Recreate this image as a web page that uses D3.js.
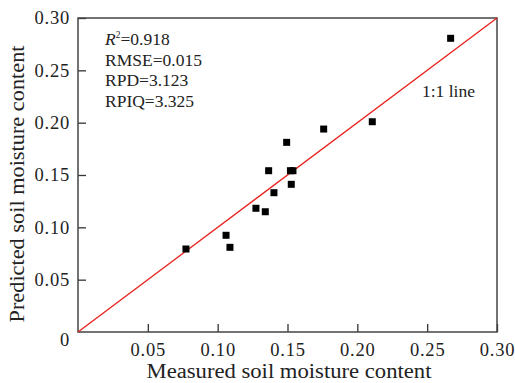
<!DOCTYPE html>
<html><head><meta charset="utf-8">
<script src="https://cdn.jsdelivr.net/npm/d3@7/dist/d3.min.js"></script>
<style>body{margin:0;background:#fff}svg{display:block}text{font-family:"Liberation Serif","DejaVu Serif",serif !important;fill:#222}</style>
</head><body><svg id="c" width="515" height="383"></svg>
<script>
const measured  = [0.0773,0.1060,0.1088,0.1274,0.1341,0.1365,0.1403,0.1494,0.1521,0.1539,0.1527,0.1759,0.2107,0.2668];
const predicted = [0.0793,0.0924,0.0809,0.1182,0.1149,0.1541,0.1331,0.1812,0.1541,0.1541,0.1411,0.1939,0.2009,0.2806];
const xTicks = [0.05,0.10,0.15,0.20,0.25,0.30];
const yTicks = [0,0.05,0.10,0.15,0.20,0.25,0.30];
const stats = [["R","=0.918"],["","RMSE=0.015"],["","RPD=3.123"],["","RPIQ=3.325"]];
const lineLabel = "1:1 line";
const xTitle = "Measured soil moisture content";
const yTitle = "Predicted soil moisture content";

const svg = d3.select("#c");
const L=78,R=497,T=18,B=332;
const x = d3.scaleLinear().domain([0,0.3]).range([L,R]);
const y = d3.scaleLinear().domain([0,0.3]).range([B,T]);
const fmt = d => d===0 ? "0" : d3.format(".2f")(d);

const gx = svg.append("g").attr("transform",`translate(0,${B})`)
  .call(d3.axisBottom(x).tickValues(xTicks).tickFormat(fmt).tickSizeInner(-8).tickSizeOuter(0).tickPadding(11));
const gy = svg.append("g").attr("transform",`translate(${L},0)`)
  .call(d3.axisLeft(y).tickValues(yTicks).tickFormat(fmt).tickSizeInner(-8).tickSizeOuter(0).tickPadding(8));
[gx,gy].forEach(g=>{
  g.attr("font-family",null).attr("font-size",null);
  g.select(".domain").remove();
  g.selectAll(".tick line").attr("stroke","#333").attr("stroke-width",1.3);
  g.selectAll(".tick text").attr("font-size",18.5).attr("fill","#222").attr("letter-spacing","0.8px");
});
gy.selectAll(".tick").filter(d=>d===0).select("text").attr("dy","0.75em");
gy.selectAll(".tick").filter(d=>d===0).select("line").remove();

// frame
svg.append("rect").attr("x",L).attr("y",T).attr("width",R-L).attr("height",B-T)
  .attr("fill","none").attr("stroke","#444").attr("stroke-width",1.5);

// 1:1 line
svg.append("line").attr("x1",x(0)).attr("y1",y(0)).attr("x2",x(0.3)).attr("y2",y(0.3))
  .attr("stroke","#e8201c").attr("stroke-width",1.3);

// points
const pts = measured.map((m,i)=>[m,predicted[i]]);
svg.append("g").selectAll("rect").data(pts).join("rect")
  .attr("x",d=>x(d[0])-3.5).attr("y",d=>y(d[1])-3.5).attr("width",7).attr("height",7).attr("fill","#000");

// stats text
const st = svg.append("g");
stats.forEach((s,i)=>{
  const t = st.append("text").attr("x",105).attr("y",45+i*20.7).attr("font-size",17.5);
  if(s[0]){
    t.append("tspan").attr("font-style","italic").text(s[0]);
    t.append("tspan").attr("font-size",9.5).attr("dy",-7).text("2");
    t.append("tspan").attr("dy",7).text(s[1]);
  } else t.text(s[1]);
});

svg.append("text").attr("x",422).attr("y",97).attr("font-size",17.5).text(lineLabel);

svg.append("text").attr("x",289).attr("y",378).attr("text-anchor","middle").attr("font-size",20)
  .attr("textLength",285).attr("lengthAdjust","spacingAndGlyphs").text(xTitle);
svg.append("text").attr("transform","translate(24,184) rotate(-90)").attr("text-anchor","middle").attr("font-size",20)
  .attr("textLength",277).attr("lengthAdjust","spacingAndGlyphs").text(yTitle);
</script></body></html>
